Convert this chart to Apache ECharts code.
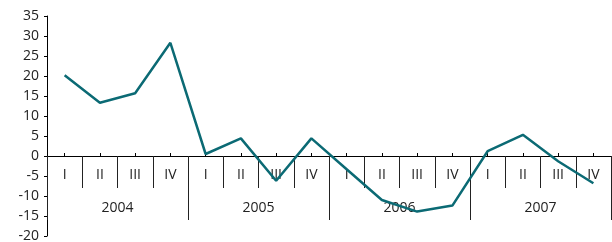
<!DOCTYPE html>
<html>
<head>
<meta charset="utf-8">
<script src="https://cdn.jsdelivr.net/npm/echarts@6/dist/echarts.min.js"></script>
<style>
  html, body { margin: 0; padding: 0; background: #fff; }
  #chart { width: 612px; height: 242px; }
</style>
</head>
<body>
<div id="chart"></div>
<script>
// quarters and years along the x axis
const quarters = ['I', 'II', 'III', 'IV', 'I', 'II', 'III', 'IV', 'I', 'II', 'III', 'IV', 'I', 'II', 'III', 'IV'];
const years = ['2004', '2005', '2006', '2007'];
// quarterly values
const values = [20.2, 13.3, 15.7, 28.3, 0.5, 4.4, -6.2, 4.4, -3.3, -11.0, -13.9, -12.4, 1.2, 5.3, -1.3, -6.8];

const txt = '#222';
const font = '"Open Sans", sans-serif';

// y runs -20..35 over 220px, so zero sits 140px below the top
const chart = echarts.init(document.getElementById('chart'));
chart.setOption({
    animation: false,
    grid: [
        { left: 47, right: 1, top: 16, bottom: 6, outerBoundsMode: 'none' },
        { left: 47, right: 1, top: 16, height: 140, outerBoundsMode: 'none' }
    ],
    xAxis: [
        {
            // hidden axis carrying the line
            type: 'category', data: quarters, gridIndex: 0, boundaryGap: true, show: false
        },
        {
            // quarter labels + short separators
            type: 'category', data: quarters, gridIndex: 1, position: 'bottom', boundaryGap: true,
            axisLine: { onZero: false, lineStyle: { color: '#000', width: 1 } },
            axisTick: { show: true, interval: 0, length: 32, lineStyle: { color: '#222' } },
            axisLabel: { interval: 0, margin: 12, color: txt, fontFamily: font, fontSize: 14 }
        },
        {
            // years + long separators
            type: 'category', data: years, gridIndex: 1, position: 'bottom', boundaryGap: true,
            axisLine: { onZero: false, lineStyle: { color: '#000', width: 1 } },
            axisTick: { show: true, interval: 0, length: 64, lineStyle: { color: '#222' } },
            axisLabel: { interval: 0, margin: 45, color: txt, fontFamily: font, fontSize: 14 }
        },
        {
            // small marks at quarter centres
            type: 'category', data: quarters, gridIndex: 1, position: 'bottom', boundaryGap: true,
            axisLine: { onZero: false, lineStyle: { color: '#000', width: 1 } },
            axisTick: { show: true, interval: 0, alignWithLabel: true, inside: true, length: 3, lineStyle: { color: '#000' } },
            axisLabel: { show: false }
        }
    ],
    yAxis: [
        {
            type: 'value', gridIndex: 0, min: -20, max: 35, interval: 5,
            axisLine: { show: true, lineStyle: { color: '#000', width: 1 } },
            axisTick: { show: true, length: 3, lineStyle: { color: '#000' } },
            splitLine: { show: false },
            axisLabel: { margin: 8, color: txt, fontFamily: font, fontSize: 14 }
        },
        { type: 'value', gridIndex: 1, show: false, splitLine: { show: false } }
    ],
    series: [{
        type: 'line', data: values, xAxisIndex: 0, yAxisIndex: 0,
        symbol: 'none',
        lineStyle: { color: '#0b6a74', width: 2.5 }
    }]
});
</script>
</body>
</html>
